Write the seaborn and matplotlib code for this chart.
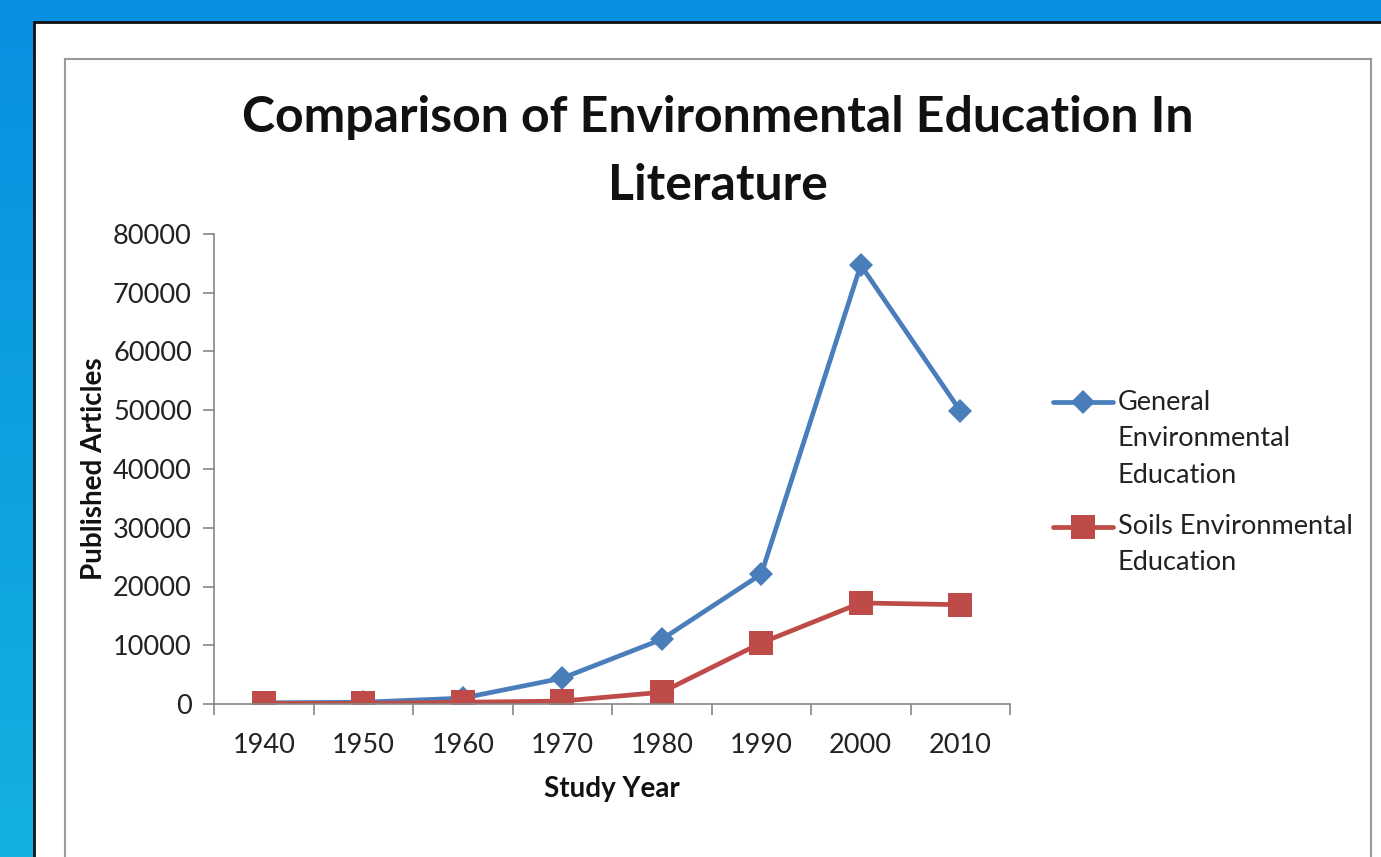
import numpy as np
import pandas as pd
import matplotlib
matplotlib.use("Agg")
import matplotlib.pyplot as plt
from matplotlib.patches import Rectangle
import seaborn as sns

years = ["1940", "1950", "1960", "1970", "1980", "1990", "2000", "2010"]
general = [200, 300, 1000, 4400, 11000, 22100, 74700, 49900]
soils = [100, 100, 300, 500, 2000, 10400, 17200, 16900]
series_names = ["General\nEnvironmental\nEducation", "Soils Environmental\nEducation"]
y_ticks = [0, 10000, 20000, 30000, 40000, 50000, 60000, 70000, 80000]

sns.set_theme(style="white")
plt.rcParams["font.family"] = ["Lato", "DejaVu Sans"]

W, H = 1381, 857
fig = plt.figure(figsize=(W / 100, H / 100), dpi=100)

# blue gradient backdrop
bg = fig.add_axes([0, 0, 1, 1], zorder=-10)
grad = np.linspace(0, 1, 256)[:, None]
top = np.array([0x08, 0x90, 0xE0]) / 255
bot = np.array([0x14, 0xB0, 0xE0]) / 255
img = top[None, None, :] * (1 - grad[:, :, None]) + bot[None, None, :] * grad[:, :, None]
bg.imshow(img, aspect="auto", extent=[0, 1, 0, 1], origin="upper")
bg.set_xlim(0, 1)
bg.set_ylim(0, 1)
bg.axis("off")

# white slide panel with dark edge, and grey chart-area frame
fig.patches.append(Rectangle((34 / W, -0.1), 1.2, 1 - 22 / H + 0.1,
                             transform=fig.transFigure, facecolor="white",
                             edgecolor="#111111", linewidth=2, zorder=-5))
fig.patches.append(Rectangle((65 / W, -0.1), (1371 - 65) / W, 1 - 59 / H + 0.1,
                             transform=fig.transFigure, facecolor="white",
                             edgecolor="#9a9a9a", linewidth=1.5, zorder=-4))

ax = fig.add_axes([214 / W, 1 - 704 / H, (1010 - 214) / W, (704 - 234) / H])
ax.set_facecolor("none")

x = np.arange(len(years))
df = pd.DataFrame({
    "pos": np.concatenate([x, x]),
    "value": general + soils,
    "series": [series_names[0]] * len(years) + [series_names[1]] * len(years),
})
palette = {series_names[0]: "#4a7ebb", series_names[1]: "#be4b48"}
sns.lineplot(data=df, x="pos", y="value", hue="series", style="series",
             markers={series_names[0]: "D", series_names[1]: "s"},
             dashes=False, palette=palette, linewidth=3.4,
             markersize=13, markeredgewidth=0, ax=ax)
for line in ax.get_lines():
    if line.get_marker() == "s":
        line.set_markersize(17)
    elif line.get_marker() == "D":
        line.set_markersize(12.5)

ax.set_xlim(-0.5, len(years) - 0.5)
ax.set_ylim(0, 80000)
ax.set_yticks(y_ticks)
ax.set_yticklabels([str(v) for v in y_ticks])
ax.set_xticks(np.arange(-0.5, len(years), 1.0))
ax.set_xticklabels([])
ax.set_xticks(x, minor=True)
ax.set_xticklabels(years, minor=True)
tick_fs = 19.5
ax.tick_params(axis="x", which="major", length=8, width=1.2, color="#868686",
               direction="out", bottom=True)
ax.tick_params(axis="x", which="minor", length=0, labelsize=tick_fs, colors="#222222",
               pad=21, bottom=True)
ax.tick_params(axis="y", length=8, width=1.2, color="#868686", direction="out",
               labelsize=tick_fs, labelcolor="#222222", pad=8, left=True)
for s in ["top", "right"]:
    ax.spines[s].set_visible(False)
for s in ["left", "bottom"]:
    ax.spines[s].set_color("#868686")
    ax.spines[s].set_linewidth(1.2)

ax.set_xlabel("Study Year", fontsize=20, fontweight="bold", labelpad=13, color="#111111")
ax.set_ylabel("Published Articles", fontsize=20, fontweight="bold", labelpad=4, color="#111111")

fig.text(718 / W, 1 - 118 / H, "Comparison of Environmental Education In",
         ha="center", va="center", fontsize=36, fontweight="bold", color="#111111")
fig.text(718 / W, 1 - 185 / H, "Literature",
         ha="center", va="center", fontsize=36, fontweight="bold", color="#111111")

leg_fs = 19.5
handles, labels = ax.get_legend_handles_labels()
leg = ax.legend(handles, labels, loc="upper left", bbox_to_anchor=(1053 / W, 1 - 390 / H),
                bbox_transform=fig.transFigure, frameon=False, fontsize=leg_fs,
                handlelength=2.2, handletextpad=0.2, labelspacing=0.97,
                borderpad=0, borderaxespad=0, labelcolor="#222222")
line_gap = 1.57
for t in leg.get_texts():
    t.set_linespacing(line_gap)
# put each legend key level with the first line of its label
step = 27.0  # points between label lines
for h, lab in zip(leg.legend_handles, labels):
    n = lab.count("\n")
    yd = np.asarray(h.get_ydata(), dtype=float)
    h.set_ydata(yd + n * 0.5 * step)

fig.savefig("out.png", dpi=100)
